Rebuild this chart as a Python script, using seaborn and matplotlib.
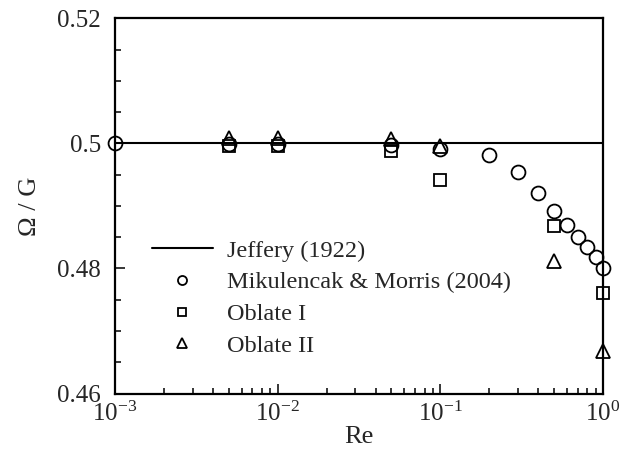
import numpy as np
import pandas as pd
import matplotlib
matplotlib.use("Agg")
import matplotlib.pyplot as plt
import matplotlib.ticker as mticker
import seaborn as sns

# Data
jeffery_re = [0.001, 1.0]
jeffery_val = [0.5, 0.5]

mik_re = [0.001, 0.005, 0.01, 0.05, 0.1, 0.2, 0.3, 0.4, 0.5, 0.6, 0.7, 0.8, 0.9, 1.0]
mik_val = [0.5, 0.4999, 0.4999, 0.4998, 0.4991, 0.4981, 0.4954, 0.4920, 0.4892,
           0.4870, 0.4850, 0.4835, 0.4818, 0.4801]

obl1_re = [0.005, 0.01, 0.05, 0.1, 0.5, 1.0]
obl1_val = [0.4996, 0.4996, 0.4987, 0.4941, 0.4868, 0.4761]

obl2_re = [0.005, 0.01, 0.05, 0.1, 0.5, 1.0]
obl2_val = [0.5008, 0.5008, 0.5007, 0.4995, 0.4812, 0.4668]

labels = ["Jeffery (1922)", "Mikulencak & Morris (2004)", "Oblate I", "Oblate II"]
yticks = [0.46, 0.48, 0.5, 0.52]

sns.set_style("ticks")
plt.rcParams["font.family"] = ["Liberation Serif", "DejaVu Serif"]
plt.rcParams["mathtext.fontset"] = "custom"
plt.rcParams["mathtext.rm"] = "Liberation Serif"
plt.rcParams["mathtext.it"] = "Liberation Serif:italic"
plt.rcParams["mathtext.bf"] = "Liberation Serif:bold"

fig = plt.figure(figsize=(6.26, 4.53), dpi=100)
ax = fig.add_axes([115/626, 1 - 393.5/453, (603 - 115)/626, (393.5 - 18.3)/453])

sns.lineplot(x=jeffery_re, y=jeffery_val, ax=ax, color="black", lw=1.5, label=labels[0])
mk = dict(linestyle="none", markerfacecolor="none", markeredgecolor="black",
          markeredgewidth=1.3, color="black", clip_on=False, zorder=5)
sns.lineplot(x=mik_re, y=mik_val, ax=ax, marker="o", markersize=10, label=labels[1], **mk)
sns.lineplot(x=obl1_re, y=obl1_val, ax=ax, marker="s", markersize=9, label=labels[2], **mk)
sns.lineplot(x=obl2_re, y=obl2_val, ax=ax, marker="^", markersize=10, label=labels[3], **mk)

ax.set_xscale("log")
ax.set_xlim(1e-3, 1.0)
ax.set_ylim(0.46, 0.52)
ax.set_yticks(yticks)
ax.yaxis.set_major_formatter(mticker.FuncFormatter(lambda v, p: f"{v:g}"))
ax.yaxis.set_minor_locator(mticker.MultipleLocator(0.005))
ax.xaxis.set_major_locator(mticker.LogLocator(base=10, numticks=10))
ax.xaxis.set_minor_locator(mticker.LogLocator(base=10, subs=np.arange(2, 10), numticks=20))
ax.xaxis.set_major_formatter(mticker.LogFormatterMathtext())

ax.tick_params(which="both", direction="in", top=False, right=False, width=1.3, labelsize=18)
ax.tick_params(which="major", length=7)
ax.tick_params(which="minor", length=4)
ax.tick_params(axis="x", pad=6)
ax.tick_params(axis="y", pad=10)
for s in ax.spines.values():
    s.set_linewidth(1.6)
    s.set_color("black")

ax.set_xlabel("Re", fontsize=19, labelpad=0)
ax.set_ylabel("Ω / G", fontsize=19, labelpad=12)

leg = ax.legend(loc="upper left", bbox_to_anchor=(0.076, 0.41), frameon=False,
                fontsize=17.5, handlelength=2.5, handletextpad=0.6, labelspacing=0.4,
                borderpad=0, borderaxespad=0, markerscale=0.65)

fig.savefig("out.png", dpi=100)
